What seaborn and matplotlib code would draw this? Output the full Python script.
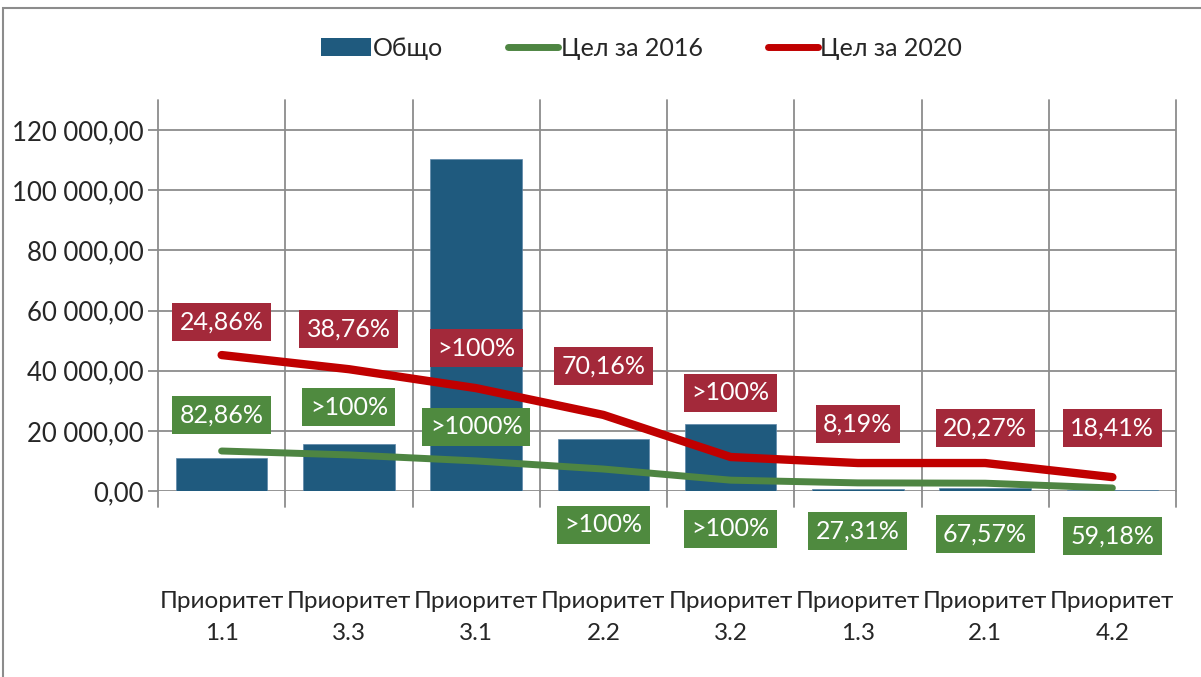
import numpy as np
import pandas as pd
import matplotlib
matplotlib.use("Agg")
import matplotlib.pyplot as plt
import seaborn as sns
from matplotlib.lines import Line2D
from matplotlib.patches import Patch, Rectangle

categories = ["Приоритет\n1.1", "Приоритет\n3.3", "Приоритет\n3.1", "Приоритет\n2.2",
              "Приоритет\n3.2", "Приоритет\n1.3", "Приоритет\n2.1", "Приоритет\n4.2"]
total = [11000, 15600, 110300, 17300, 22300, 500, 1000, 300]
target_2016 = [13300, 12000, 10000, 7300, 3600, 2700, 2600, 1000]
target_2020 = [45200, 40500, 34200, 25300, 11300, 9300, 9300, 4600]
labels_2016 = ["82,86%", ">100%", ">1000%", ">100%", ">100%", "27,31%", "67,57%", "59,18%"]
labels_2020 = ["24,86%", "38,76%", ">100%", "70,16%", ">100%", "8,19%", "20,27%", "18,41%"]
yticks = [0, 20000, 40000, 60000, 80000, 100000, 120000]

# label placement (style, not data)
pos_2020 = [56200, 53800, 47500, 41500, 32600, 22300, 20900, 20900]
pos_2016 = [25300, 27900, 21300, -11300, -12600, -13300, -14300, -15000]

sns.set_theme(style="white")
plt.rcParams['font.family'] = ['Lato', 'DejaVu Sans']

BAR = "#1F5A7E"
GREEN = "#4E8542"
RED = "#C00000"
RED_BOX = "#A3293A"
GREEN_BOX = "#4F8A3F"
GRID = "#8C8C8C"

fig = plt.figure(figsize=(12.01, 6.77), dpi=100)
ax = fig.add_axes([158/1201, 186/677, (1176-158)/1201, (491-100)/677])

df = pd.DataFrame({"cat": categories, "total": total})
sns.barplot(data=df, x="cat", y="total", color=BAR, width=0.72, ax=ax,
            saturation=1, zorder=2, edgecolor="#5C86A8", linewidth=0.5)
n = len(categories)
x = np.arange(n)
sns.lineplot(x=x, y=target_2016, ax=ax, color=GREEN, lw=5, zorder=3,
             solid_capstyle="round", solid_joinstyle="round")
sns.lineplot(x=x, y=target_2020, ax=ax, color=RED, lw=6, zorder=3,
             solid_capstyle="round", solid_joinstyle="round")

ax.set_xlim(-0.5, n - 0.5)
ax.set_ylim(0, 130000)
ax.set_yticks(yticks)
ax.set_yticklabels([f"{v:,.2f}".replace(",", " ").replace(".", ",") for v in yticks],
                   fontsize=18.5)
ax.set_xticks(x)
ax.set_xticklabels(categories, fontsize=17.5, linespacing=1.65)
ax.tick_params(axis="x", length=0, pad=72)
ax.tick_params(axis="y", length=7, color=GRID, width=1.3, direction="out", pad=3, left=True)
ax.set_xlabel("")
ax.set_ylabel("")

# grid
for v in yticks:
    ax.axhline(v, color=GRID, lw=1.3, zorder=1)
for b in np.arange(-0.5, n, 1.0):
    ax.plot([b, b], [0, 1], transform=ax.get_xaxis_transform(), color=GRID, lw=1.3,
            zorder=1, clip_on=False)
    ax.plot([b, b], [0, -16/391], transform=ax.get_xaxis_transform(), color=GRID,
            lw=1.3, zorder=1, clip_on=False)
for s in ax.spines.values():
    s.set_visible(False)

for i in range(n):
    ax.text(x[i], pos_2020[i], labels_2020[i], ha="center", va="center", color="white",
            fontsize=18, zorder=5,
            bbox=dict(boxstyle="square,pad=0.3", fc=RED_BOX, ec="none"))
    ax.text(x[i], pos_2016[i], labels_2016[i], ha="center", va="center", color="white",
            fontsize=18, zorder=5, clip_on=False,
            bbox=dict(boxstyle="square,pad=0.3", fc=GREEN_BOX, ec="none"))

handles = [Patch(facecolor=BAR, edgecolor="none", label="Общо"),
           Line2D([0], [0], color=GREEN, lw=5, solid_capstyle="round", label="Цел за 2016"),
           Line2D([0], [0], color=RED, lw=5, solid_capstyle="round", label="Цел за 2020")]
fig.legend(handles=handles, loc="center", bbox_to_anchor=(0.534, 0.929), ncol=3,
           frameon=False, fontsize=18, handlelength=2.0, handletextpad=0.1,
           columnspacing=2.6)

fig.add_artist(Rectangle((3/1201, -0.05), 1.5, (677-8)/677 + 0.05, transform=fig.transFigure,
                         fill=False, ec=GRID, lw=1.5, clip_on=False))

fig.savefig("out.png", dpi=100)
